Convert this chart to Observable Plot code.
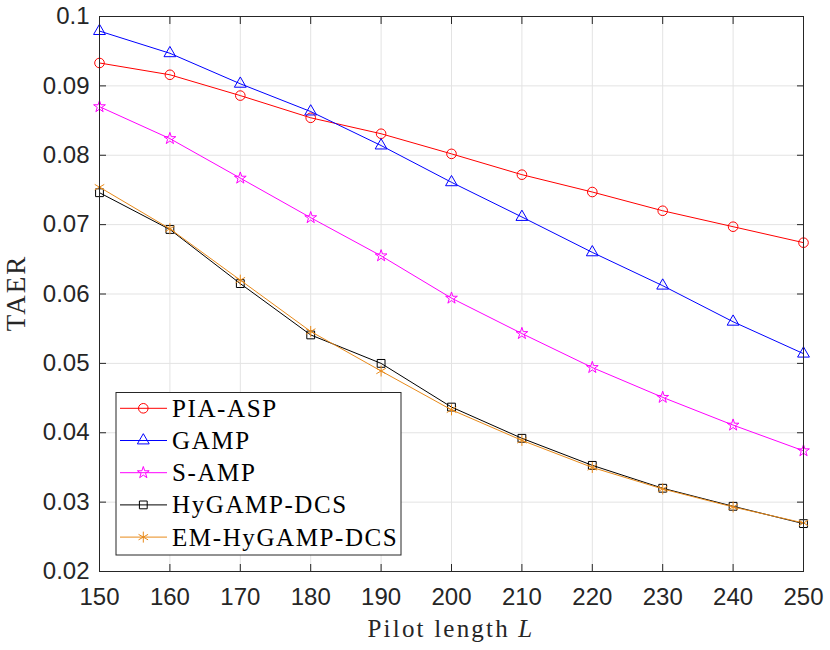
<!DOCTYPE html>
<html>
<head>
<meta charset="utf-8">
<script src="https://cdn.jsdelivr.net/npm/d3@7"></script>
<script src="https://cdn.jsdelivr.net/npm/@observablehq/plot@0.6"></script>
<style>
  html, body { margin: 0; padding: 0; background: #fff; }
  #chart { width: 830px; height: 650px; }
</style>
</head>
<body>
<div id="chart"></div>
<script>
const pilotLength = [150, 160, 170, 180, 190, 200, 210, 220, 230, 240, 250];
const piaAsp      = [0.0933, 0.0916, 0.0886, 0.0854, 0.0831, 0.0802, 0.0772, 0.0747, 0.0720, 0.0697, 0.0674];
const gamp        = [0.0979, 0.0947, 0.0903, 0.0863, 0.0814, 0.0761, 0.0711, 0.0660, 0.0612, 0.0560, 0.0514];
const sAmp        = [0.0870, 0.0824, 0.0767, 0.0710, 0.0655, 0.0594, 0.0543, 0.0494, 0.0451, 0.0411, 0.0374];
const hyGampDcs   = [0.0746, 0.0693, 0.0615, 0.0541, 0.0500, 0.0437, 0.0392, 0.0353, 0.0320, 0.0294, 0.0269];
const emHyGampDcs = [0.0754, 0.0694, 0.0620, 0.0546, 0.0489, 0.0433, 0.0389, 0.0350, 0.0319, 0.0293, 0.0270];
const xTicks = [150, 160, 170, 180, 190, 200, 210, 220, 230, 240, 250];
const yTicks = [0.02, 0.03, 0.04, 0.05, 0.06, 0.07, 0.08, 0.09, 0.1];

const seriesNames  = ["PIA-ASP", "GAMP", "S-AMP", "HyGAMP-DCS", "EM-HyGAMP-DCS"];
const seriesValues = [piaAsp, gamp, sAmp, hyGampDcs, emHyGampDcs];
const seriesColors = ["#ff0000", "#0000ff", "#ff00ff", "#000000", "#e88a1a"];
const seriesSymbols = ["circle", "triangle", "star", "square", "asterisk"];
const seriesR = [4.8, 4.4, 3.7, 4.4, 5.2];

const rows = [];
seriesNames.forEach((name, i) => {
  seriesValues[i].forEach((v, j) => rows.push({series: name, x: pilotLength[j], y: v, i}));
});

const axisColor = "#262626";
const marks = [
  Plot.gridX(xTicks, {stroke: "#e3e3e3", strokeOpacity: 1, strokeWidth: 1}),
  Plot.gridY(yTicks, {stroke: "#e3e3e3", strokeOpacity: 1, strokeWidth: 1}),
];
seriesNames.forEach((name, i) => {
  const data = rows.filter(d => d.series === name);
  marks.push(Plot.line(data, {x: "x", y: "y", stroke: seriesColors[i], strokeWidth: 1}));
  marks.push(Plot.dot(data, {x: "x", y: "y", stroke: seriesColors[i], fill: "none",
    symbol: () => seriesSymbols[i], r: seriesR[i], strokeWidth: 1}));
});
marks.push(
  Plot.axisX(xTicks, {anchor: "bottom", tickSize: -7, tickPadding: 23, stroke: axisColor, fill: axisColor, label: null,
    fontSize: 24, fontFamily: "Liberation Sans", tickFormat: d => String(d)}),
  Plot.axisX(xTicks, {anchor: "top", tickSize: -7, stroke: axisColor, label: null, tickFormat: () => ""}),
  Plot.axisY(yTicks, {anchor: "left", tickSize: -7, tickPadding: 17, stroke: axisColor, fill: axisColor, label: null,
    fontSize: 24, fontFamily: "Liberation Sans", tickFormat: d => d3.format("~g")(d)}),
  Plot.axisY(yTicks, {anchor: "right", tickSize: -7, stroke: axisColor, label: null, tickFormat: () => ""}),
  Plot.frame({stroke: axisColor, strokeWidth: 1})
);

const plot = Plot.plot({
  width: 830,
  height: 650,
  marginLeft: 99,
  marginRight: 27,
  marginTop: 16,
  marginBottom: 79,
  x: {domain: [150, 250]},
  y: {domain: [0.02, 0.1]},
  style: {background: "#fff", overflow: "visible"},
  marks
});
document.getElementById("chart").appendChild(plot);

// Axis titles and legend
const svg = d3.select(plot);
const serif = "'Liberation Serif', 'Times New Roman', serif";
const xl = svg.append("text")
  .attr("x", 451).attr("y", 637)
  .attr("text-anchor", "middle")
  .attr("font-family", serif).attr("font-size", 25)
  .attr("letter-spacing", "2.2px")
  .attr("fill", axisColor);
xl.append("tspan").text("Pilot length ");
xl.append("tspan").attr("font-style", "italic").text("L");

svg.append("text")
  .attr("transform", "translate(25,293) rotate(-90)")
  .attr("text-anchor", "middle")
  .attr("font-family", serif).attr("font-size", 27)
  .attr("letter-spacing", "2px")
  .attr("fill", axisColor)
  .text("TAER");

const lg = svg.append("g");
lg.append("rect")
  .attr("x", 116).attr("y", 392.5).attr("width", 285).attr("height", 162.5)
  .attr("fill", "#fff").attr("stroke", axisColor).attr("stroke-width", 1);
const symMap = {circle: d3.symbolCircle, triangle: d3.symbolTriangle, star: d3.symbolStar, square: d3.symbolSquare, asterisk: d3.symbolAsterisk};
seriesNames.forEach((name, i) => {
  const cy = 408.3 + i * 32.2;
  lg.append("line").attr("x1", 120).attr("x2", 167).attr("y1", cy).attr("y2", cy)
    .attr("stroke", seriesColors[i]).attr("stroke-width", 1);
  const r = seriesR[i];
  lg.append("path")
    .attr("d", d3.symbol(symMap[seriesSymbols[i]], Math.PI * r * r)())
    .attr("transform", `translate(143.3,${cy})`)
    .attr("fill", "none").attr("stroke", seriesColors[i]).attr("stroke-width", 1);
  lg.append("text")
    .attr("x", 172).attr("y", cy + 8.5)
    .attr("text-anchor", "start")
    .attr("font-family", serif).attr("font-size", 25)
    .attr("letter-spacing", "1.6px")
    .attr("fill", "#000")
    .text(name);
});
</script>
</body>
</html>
